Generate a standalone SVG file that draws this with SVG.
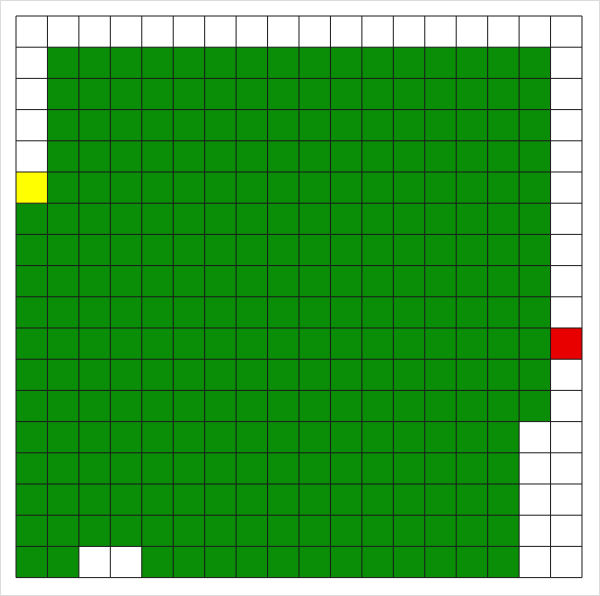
<svg xmlns="http://www.w3.org/2000/svg" width="600" height="596" viewBox="0 0 600 596">
  <style>
    .g{fill:#0a8e08}
    .y{fill:#ffff00}
    .r{fill:#e80000}
    .grid{fill:none;stroke:#1a1a1a;stroke-width:1}
  </style>
  <rect x="0" y="0" width="600" height="596" fill="#ffffff"/>
  <rect x="0.5" y="0.5" width="599" height="595" fill="none" stroke="#dcdcdc" stroke-width="1"/>
  <g id="board" transform="translate(16,16) scale(31.444,31.2)">
    <g id="green-cells">
      <rect class="g" x="1" y="1" width="16" height="12"/>
      <rect class="g" x="1" y="13" width="15" height="4"/>
      <rect class="g" x="0" y="6" width="1" height="12"/>
      <rect class="g" x="1" y="17" width="1" height="1"/>
      <rect class="g" x="4" y="17" width="12" height="1"/>
    </g>
    <g id="start"><rect class="y" x="0" y="5" width="1" height="1"/></g>
    <g id="goal"><rect class="r" x="17" y="10" width="1" height="1"/></g>
    <g id="gridlines">
      <path class="grid" vector-effect="non-scaling-stroke" d="M0 0V18M1 0V18M2 0V18M3 0V18M4 0V18M5 0V18M6 0V18M7 0V18M8 0V18M9 0V18M10 0V18M11 0V18M12 0V18M13 0V18M14 0V18M15 0V18M16 0V18M17 0V18M18 0V18M0 0H18M0 1H18M0 2H18M0 3H18M0 4H18M0 5H18M0 6H18M0 7H18M0 8H18M0 9H18M0 10H18M0 11H18M0 12H18M0 13H18M0 14H18M0 15H18M0 16H18M0 17H18M0 18H18"/>
    </g>
  </g>
</svg>
